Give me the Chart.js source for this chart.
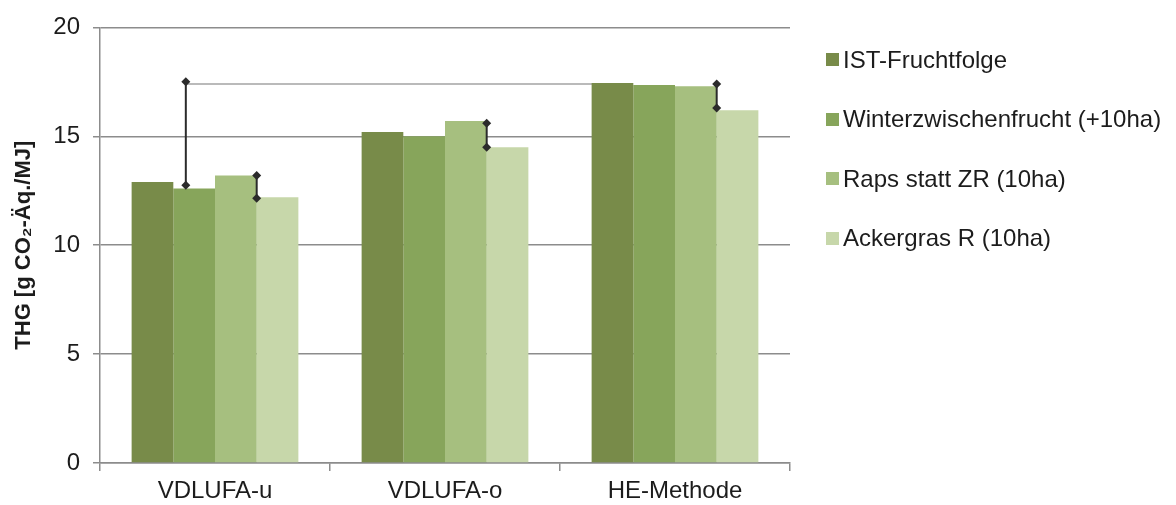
<!DOCTYPE html>
<html>
<head>
<meta charset="utf-8">
<script src="https://cdn.jsdelivr.net/npm/chart.js@4"></script>
<style>
  html, body { margin: 0; padding: 0; background: #ffffff; }
  #wrap { position: relative; width: 1176px; height: 505px; }
  #c { position: absolute; left: 0; top: 0; }
  #legend { position: absolute; left: 0; top: 0; width: 1176px; height: 505px; pointer-events: none;
            font-family: 'Liberation Sans', Arial, sans-serif; font-size: 24px; color: #1c1c1c; }
  .li { position: absolute; left: 826px; height: 28px; display: flex; align-items: center; white-space: nowrap; }
  .sw { width: 13px; height: 13px; margin-right: 4px; }
</style>
</head>
<body>
<div id="wrap">
  <canvas id="c" width="1176" height="505"></canvas>
  <div id="legend"></div>
</div>
<script>
// ---- data ----
const categories = ['VDLUFA-u', 'VDLUFA-o', 'HE-Methode'];
const seriesNames = ['IST-Fruchtfolge', 'Winterzwischenfrucht (+10ha)', 'Raps statt ZR (10ha)', 'Ackergras R (10ha)'];
const istValues = [12.9, 15.2, 17.45];
const winterValues = [12.6, 15.0, 17.35];
const rapsValues = [13.2, 15.7, 17.3];
const ackerValues = [12.2, 14.5, 16.2];
const yTicks = [0, 5, 10, 15, 20];
// range markers (diamond-ended lines)
const markerCategory = ['VDLUFA-u', 'VDLUFA-u', 'VDLUFA-o', 'HE-Methode'];
const markerFrom = [12.75, 13.2, 15.6, 17.4];
const markerTo = [17.5, 12.15, 14.5, 16.3];
const referenceValue = 17.4;

// ---- styles ----
const colors = ['#788b49', '#87a55b', '#a6bf7f', '#c7d7aa'];
const gridColor = '#8c8c8c';
const textColor = '#1c1c1c';
const FONT = "'Liberation Sans', Arial, sans-serif";
// marker anchor: [dataset index, relative offset in bar widths from that bar's center]
const markerAnchor = [[1, -0.2], [2, 0.5], [2, 0.5], [2, 0.5]];

const seriesValues = [istValues, winterValues, rapsValues, ackerValues];

const markerPlugin = {
  id: 'markers',
  beforeDatasetsDraw(chart) {
    const ctx = chart.ctx;
    const y = chart.scales.y;
    const m0 = chart.getDatasetMeta(markerAnchor[0][0]);
    const ci0 = categories.indexOf(markerCategory[0]);
    const b0 = m0.data[ci0];
    const x0 = b0.x + markerAnchor[0][1] * b0.width;
    const mEnd = chart.getDatasetMeta(0);
    const bEnd = mEnd.data[categories.indexOf('HE-Methode')];
    const yy = y.getPixelForValue(referenceValue);
    ctx.save();
    ctx.strokeStyle = '#a3a3a3';
    ctx.lineWidth = 1.5;
    ctx.beginPath();
    ctx.moveTo(x0, yy);
    ctx.lineTo(bEnd.x, yy);
    ctx.stroke();
    ctx.restore();
  },
  afterDatasetsDraw(chart) {
    const ctx = chart.ctx;
    const y = chart.scales.y;
    ctx.save();
    ctx.strokeStyle = '#2b2b2b';
    ctx.fillStyle = '#2b2b2b';
    ctx.lineWidth = 2;
    for (let i = 0; i < markerFrom.length; i++) {
      const meta = chart.getDatasetMeta(markerAnchor[i][0]);
      const bar = meta.data[categories.indexOf(markerCategory[i])];
      const x = bar.x + markerAnchor[i][1] * bar.width;
      const y1 = y.getPixelForValue(markerFrom[i]);
      const y2 = y.getPixelForValue(markerTo[i]);
      ctx.beginPath();
      ctx.moveTo(x, y1);
      ctx.lineTo(x, y2);
      ctx.stroke();
      [y1, y2].forEach(py => {
        const r = 4.5;
        ctx.beginPath();
        ctx.moveTo(x, py - r);
        ctx.lineTo(x + r, py);
        ctx.lineTo(x, py + r);
        ctx.lineTo(x - r, py);
        ctx.closePath();
        ctx.fill();
      });
    }
    ctx.restore();
  }
};

new Chart(document.getElementById('c'), {
  type: 'bar',
  data: {
    labels: categories,
    datasets: seriesNames.map((n, i) => ({
      label: n,
      data: seriesValues[i],
      backgroundColor: colors[i],
      borderWidth: 0,
      categoryPercentage: 0.725,
      barPercentage: 1.0
    }))
  },
  options: {
    responsive: false,
    animation: false,
    devicePixelRatio: 1,
    layout: { padding: { left: 0, top: 23, right: 386, bottom: 0 } },
    plugins: { legend: { display: false }, tooltip: { enabled: false } },
    scales: {
      x: {
        type: 'category',
        grid: { display: true, drawOnChartArea: false, drawTicks: true, tickLength: 8, color: gridColor, lineWidth: 1.5, offset: true },
        border: { display: true, color: gridColor, width: 1.5 },
        ticks: { color: textColor, font: { family: FONT, size: 24 }, padding: 6, maxRotation: 0 },
        afterFit(s) { s.height = 42; }
      },
      y: {
        min: 0, max: 20,
        afterBuildTicks(s) { s.ticks = yTicks.map(v => ({ value: v })); },
        grid: { color: gridColor, lineWidth: 1.5, tickLength: 7, drawTicks: true },
        border: { display: true, color: gridColor, width: 1.5 },
        ticks: { color: textColor, font: { family: FONT, size: 24 }, padding: 13 },
        title: { display: true, text: 'THG [g CO₂-Äq./MJ]', color: textColor,
                 font: { family: FONT, size: 22, weight: 'bold' }, padding: { top: 11, bottom: 0 } },
        afterFit(s) { s.width = 100; }
      }
    }
  },
  plugins: [markerPlugin]
});

// HTML legend built from the series arrays
const lg = document.getElementById('legend');
const legendCenters = [59.5, 119, 178.5, 238];
seriesNames.forEach((n, i) => {
  const d = document.createElement('div');
  d.className = 'li';
  d.style.top = (legendCenters[i] - 14) + 'px';
  const sw = document.createElement('span');
  sw.className = 'sw';
  sw.style.background = colors[i];
  const t = document.createElement('span');
  t.textContent = n;
  d.appendChild(sw);
  d.appendChild(t);
  lg.appendChild(d);
});
</script>
</body>
</html>
